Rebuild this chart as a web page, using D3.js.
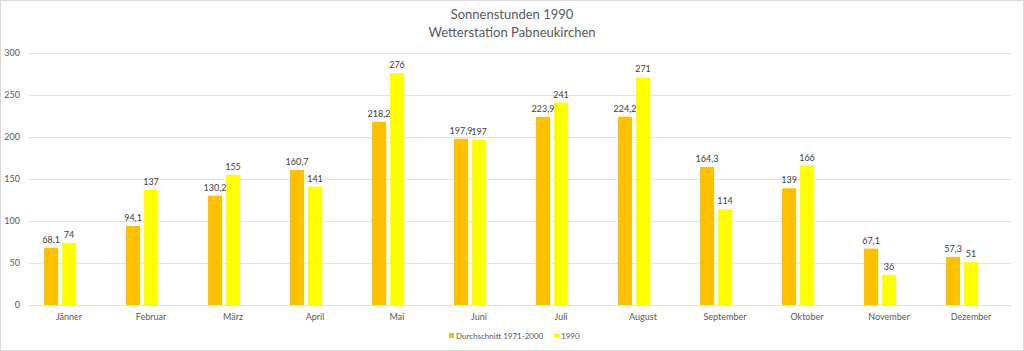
<!DOCTYPE html>
<html>
<head>
<meta charset="utf-8">
<script src="https://cdnjs.cloudflare.com/ajax/libs/d3/7.8.5/d3.min.js"></script>
<style>
  body { margin: 0; background: #fff; }
  #chart { width: 1024px; height: 351px; }
  text { font-family: Lato, "Open Sans", sans-serif; fill: #595959; }
  .val { fill: #404040; }
</style>
</head>
<body>
<div id="chart"></div>
<script>
const months = ["Jänner", "Februar", "März", "April", "Mai", "Juni", "Juli", "August", "September", "Oktober", "November", "Dezember"];
const seriesNames = ["Durchschnitt 1971-2000", "1990"];
const avgValues = [68.1, 94.1, 130.2, 160.7, 218.2, 197.9, 223.9, 224.2, 164.3, 139, 67.1, 57.3];
const values1990 = [74, 137, 155, 141, 276, 197, 241, 271, 114, 166, 36, 51];
const yTicks = [0, 50, 100, 150, 200, 250, 300];
const colors = ["#FFC000", "#FFFF00"];

const W = 1024, H = 351;
const margin = {top: 53, right: 12, bottom: 46, left: 28};
const width = W - margin.left - margin.right;
const height = H - margin.top - margin.bottom;

const svg = d3.select("#chart").append("svg")
    .attr("width", W)
    .attr("height", H);

svg.append("rect")
    .attr("x", 0.5).attr("y", 0.5)
    .attr("width", W - 1).attr("height", H - 1)
    .attr("fill", "#fff")
    .attr("stroke", "#d9d9d9");

const g = svg.append("g").attr("transform", `translate(${margin.left},${margin.top})`);

const x = d3.scaleBand().domain(months).range([0, width]).padding(0);
// bar pair sits a bit left of the category centre, like in the original
const xInner = d3.scaleBand().domain(seriesNames).range([-25, 7]).paddingInner(0.22);
const y = d3.scaleLinear().domain([0, 300]).range([height, 0]);

// grid
g.append("g")
    .selectAll("line")
    .data(yTicks)
    .join("line")
    .attr("x1", 0).attr("x2", width)
    .attr("y1", d => Math.round(y(d)) + 0.5)
    .attr("y2", d => Math.round(y(d)) + 0.5)
    .attr("stroke", "#e3e3e3");

// y axis labels
g.append("g")
    .call(d3.axisLeft(y).tickValues(yTicks).tickSize(0).tickPadding(8))
    .call(a => a.select(".domain").remove())
    .selectAll("text")
    .style("font-size", "9px")
    .attr("fill", "#595959");

// x axis labels
g.append("g")
    .attr("transform", `translate(0,${height})`)
    .call(d3.axisBottom(x).tickSize(0).tickPadding(9))
    .call(a => a.select(".domain").remove())
    .selectAll("text")
    .style("font-size", "9px")
    .attr("fill", "#595959");

const rows = months.map((m, i) => ({month: m, vals: [avgValues[i], values1990[i]]}));
const fmt = v => String(v).replace(".", ",");

const groups = g.selectAll(".month")
    .data(rows)
    .join("g")
    .attr("transform", d => `translate(${x(d.month) + x.bandwidth() / 2},0)`);

const bars = groups.selectAll("g.bar")
    .data(d => d.vals.map((v, j) => ({name: seriesNames[j], value: v, j})))
    .join("g").attr("class", "bar");

bars.append("rect")
    .attr("x", d => xInner(d.name))
    .attr("width", xInner.bandwidth())
    .attr("y", d => y(d.value))
    .attr("height", d => height - y(d.value))
    .attr("fill", d => colors[d.j]);

bars.append("text")
    .attr("class", "val")
    .attr("x", d => xInner(d.name) + xInner.bandwidth() / 2)
    .attr("y", d => y(d.value) - 5)
    .attr("text-anchor", "middle")
    .style("font-size", "9px")
    .text(d => fmt(d.value));

// title
const title = svg.append("text")
    .attr("x", W / 2)
    .attr("text-anchor", "middle")
    .style("font-size", "13px");
title.append("tspan").attr("x", W / 2).attr("y", 19).text("Sonnenstunden 1990");
title.append("tspan").attr("x", W / 2).attr("y", 37).text("Wetterstation Pabneukirchen");

// legend
const legend = svg.append("g").attr("transform", "translate(449,336)");
const legendItems = [{name: seriesNames[0], dx: 0}, {name: seriesNames[1], dx: 105}];
legendItems.forEach((it, j) => {
    const li = legend.append("g").attr("transform", `translate(${it.dx},0)`);
    li.append("rect").attr("x", 0).attr("y", -3).attr("width", 5).attr("height", 5).attr("fill", colors[j]);
    li.append("text").attr("x", 7).attr("y", 2.5).style("font-size", "8px").text(it.name);
});
</script>
</body>
</html>
